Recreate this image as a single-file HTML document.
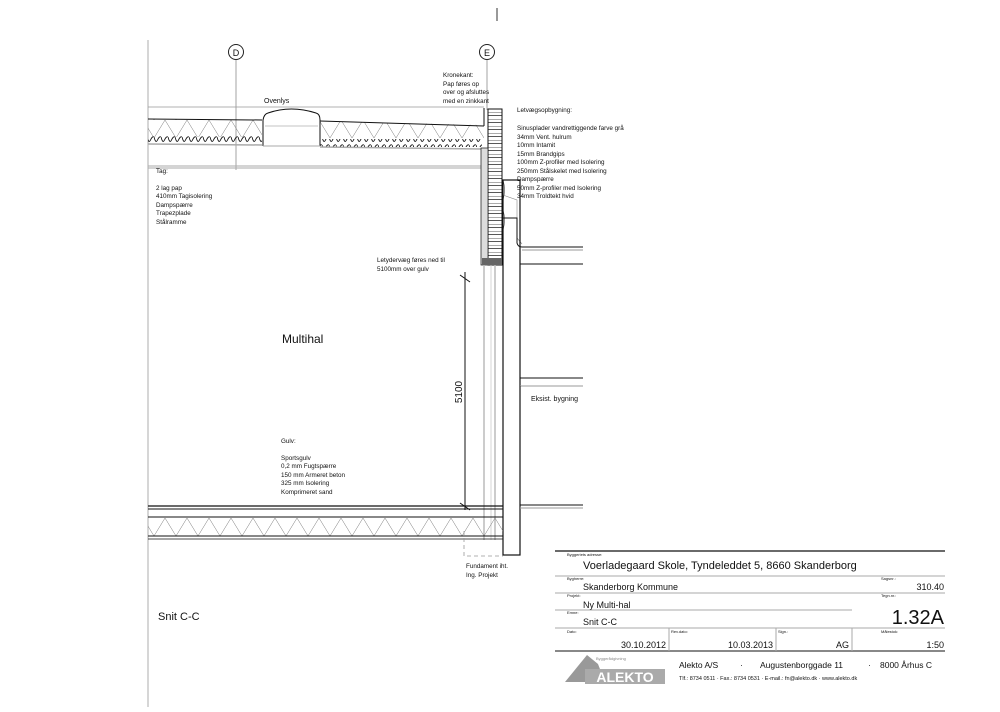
<!DOCTYPE html>
<html><head><meta charset="utf-8"><style>
html,body{margin:0;padding:0;background:#fff;}
svg text{font-family:"Liberation Sans",sans-serif;fill:#111;}
</style></head><body>
<svg width="1000" height="707" viewBox="0 0 1000 707" xmlns="http://www.w3.org/2000/svg">
<defs>
<pattern id="zr" x="0" y="120" width="22" height="18" patternUnits="userSpaceOnUse">
<path d="M0 18 L11 0 L22 18" fill="none" stroke="#777" stroke-width="0.5"/>
</pattern>
<pattern id="zf" x="0" y="518" width="22" height="18" patternUnits="userSpaceOnUse">
<path d="M0 18 L11 0 L22 18" fill="none" stroke="#777" stroke-width="0.5"/>
</pattern>
<pattern id="wv" x="0" y="0" width="7" height="8" patternUnits="userSpaceOnUse">
<path d="M0 1 Q1.75 8 3.5 4 Q5.25 0 7 1" fill="none" stroke="#111" stroke-width="0.9"/>
</pattern>
<pattern id="wl" x="0" y="0" width="20" height="7" patternUnits="userSpaceOnUse">
<rect width="20" height="7" fill="#fff"/>
<path d="M0 3.5 H20 M0 0 H20" stroke="#222" stroke-width="0.7"/>
</pattern>
</defs>
<line x1="497" y1="8" x2="497" y2="21" stroke="#333"/>
<line x1="148" y1="40" x2="148" y2="707" stroke="#bbb" stroke-width="1.2"/>
<circle cx="236" cy="52" r="7.5" fill="none" stroke="#222"/><text x="236" y="56" font-size="9" text-anchor="middle">D</text>
<line x1="236" y1="60" x2="236" y2="170" stroke="#666" stroke-width="0.6"/>
<circle cx="487" cy="52" r="7.5" fill="none" stroke="#222"/><text x="487" y="56" font-size="9" text-anchor="middle">E</text>
<line x1="487" y1="60" x2="487" y2="110" stroke="#666" stroke-width="0.6"/>
<line x1="148" y1="107" x2="484" y2="107" stroke="#999" stroke-width="0.8"/>
<polygon points="148,119 262,120 262,137 148,137" fill="url(#zr)"/>
<polygon points="320,121 484,125 484,138 320,138" fill="url(#zr)"/>
<line x1="148" y1="119" x2="262" y2="120" stroke="#111"/>
<line x1="320" y1="121" x2="484" y2="126" stroke="#111"/>
<rect x="148" y="136" width="114" height="8" fill="url(#wv)"/>
<rect x="320" y="139" width="162" height="8" fill="url(#wv)"/>
<line x1="148" y1="144" x2="262" y2="145" stroke="#aaa" stroke-width="1.5"/>
<line x1="320" y1="147" x2="482" y2="149" stroke="#aaa" stroke-width="1.5"/>
<line x1="148" y1="166" x2="484" y2="166" stroke="#aaa" stroke-width="1"/>
<line x1="148" y1="168" x2="484" y2="168" stroke="#aaa" stroke-width="1"/>
<path d="M263 146 V120 Q264 114 268 113 Q291 105 316 113 Q320 114 320 120 V146" fill="none" stroke="#111"/>
<line x1="265" y1="126" x2="318" y2="126" stroke="#888" stroke-width="0.6"/>
<line x1="263" y1="146" x2="320" y2="146" stroke="#aaa"/>
<text x="264" y="103" font-size="7">Ovenlys</text>
<rect x="488" y="109" width="14" height="156" fill="url(#wl)" stroke="#111"/>
<rect x="481" y="148" width="7" height="117" fill="#ddd" stroke="#111" stroke-width="0.7"/>
<rect x="482" y="258" width="20" height="7" fill="#666"/>
<line x1="484" y1="108" x2="484" y2="126" stroke="#111"/>
<path d="M503 180 Q506 190 503 200 M503 210 Q506 220 503 230" stroke="#444" fill="none" stroke-width="0.6"/>
<path d="M503 195 L517 200 L517 238 L522 244" fill="none" stroke="#888" stroke-width="0.6"/>
<path d="M503 218 H517 V243 Q518 247 522 247 H583" fill="none" stroke="#111"/>
<line x1="522" y1="250" x2="583" y2="250" stroke="#999"/>
<line x1="484" y1="265" x2="484" y2="540" stroke="#bbb" stroke-width="1.5"/>
<line x1="495" y1="265" x2="495" y2="540" stroke="#bbb" stroke-width="1.5"/>
<line x1="491" y1="265" x2="491" y2="540" stroke="#ccc" stroke-width="0.8"/>
<rect x="503" y="180" width="17" height="375" fill="none" stroke="#111" stroke-width="1.2"/>
<path d="M583 264 H520 V378 H583" fill="none" stroke="#111"/>
<line x1="520" y1="386" x2="583" y2="386" stroke="#999"/>
<path d="M520 386 V505 H583" fill="none" stroke="#111"/>
<line x1="520" y1="508" x2="583" y2="508" stroke="#999"/>
<text x="531" y="401" font-size="7">Eksist. bygning</text>
<line x1="148" y1="506" x2="503" y2="506" stroke="#111" stroke-width="1.3"/>
<line x1="148" y1="509" x2="503" y2="509" stroke="#111" stroke-width="1"/>
<line x1="148" y1="517" x2="503" y2="517" stroke="#111" stroke-width="1"/>
<rect x="148" y="518" width="355" height="18" fill="url(#zf)"/>
<line x1="148" y1="536" x2="503" y2="536" stroke="#111" stroke-width="1"/>
<line x1="148" y1="539" x2="503" y2="539" stroke="#111" stroke-width="0.8"/>
<path d="M464 531 V556 H503" fill="none" stroke="#999" stroke-dasharray="4 3" stroke-width="0.8"/>
<line x1="465" y1="272" x2="465" y2="510" stroke="#111"/>
<line x1="460" y1="275" x2="470" y2="282" stroke="#111"/>
<line x1="460" y1="503" x2="470" y2="510" stroke="#111"/>
<text transform="translate(462 392) rotate(-90)" font-size="10" text-anchor="middle">5100</text>
<g font-size="6.3">
<text x="443" y="77">Kronekant:</text><text x="443" y="86">Pap føres op</text><text x="443" y="94">over og afsluttes</text><text x="443" y="103">med en zinkkant</text>
<text x="517" y="112">Letvægsopbygning:</text>
<text x="517" y="130">Sinusplader vandrettiggende farve grå</text><text x="517" y="139">34mm Vent. hulrum</text><text x="517" y="147">10mm Intamit</text><text x="517" y="156">15mm Brandgips</text><text x="517" y="164">100mm Z-profiler med Isolering</text><text x="517" y="173">250mm Stålskelet med Isolering</text><text x="517" y="181">Dampspærre</text><text x="517" y="190">50mm Z-profiler med Isolering</text><text x="517" y="198">34mm Troldtekt hvid</text>
<text x="156" y="173">Tag:</text>
<text x="156" y="190">2 lag pap</text><text x="156" y="198">410mm Tagisolering</text><text x="156" y="207">Dampspærre</text><text x="156" y="215">Trapezplade</text><text x="156" y="224">Stålramme</text>
<text x="377" y="262">Letydervæg føres ned til</text><text x="377" y="271">5100mm over gulv</text>
<text x="281" y="443">Gulv:</text>
<text x="281" y="460">Sportsgulv</text><text x="281" y="468">0,2 mm Fugtspærre</text><text x="281" y="477">150 mm Armeret beton</text><text x="281" y="485">325 mm Isolering</text><text x="281" y="494">Komprimeret sand</text>
<text x="466" y="568">Fundament iht.</text><text x="466" y="577">Ing. Projekt</text>
</g>
<text x="282" y="343" font-size="12">Multihal</text>
<text x="158" y="620" font-size="11">Snit C-C</text>
<g stroke="#111" fill="none">
<line x1="555" y1="551" x2="945" y2="551" stroke-width="1.2"/>
<line x1="555" y1="576" x2="945" y2="576" stroke="#aaa"/>
<line x1="555" y1="593" x2="945" y2="593" stroke="#aaa"/>
<line x1="555" y1="610" x2="852" y2="610" stroke="#aaa"/>
<line x1="555" y1="628" x2="945" y2="628" stroke="#aaa"/>
<line x1="555" y1="651" x2="945" y2="651" stroke-width="1"/>
<line x1="669" y1="628" x2="669" y2="651" stroke="#aaa"/>
<line x1="776" y1="628" x2="776" y2="651" stroke="#aaa"/>
<line x1="852" y1="628" x2="852" y2="651" stroke="#aaa"/>
</g>
<g font-size="4">
<text x="567" y="556">Byggeriets adresse:</text><text x="567" y="580">Bygherre:</text><text x="567" y="597">Projekt:</text><text x="567" y="614">Emne:</text><text x="567" y="633">Dato:</text><text x="671" y="633">Rev.dato:</text><text x="778" y="633">Sign.:</text><text x="881" y="580">Sagsnr.:</text><text x="881" y="597">Tegn.nr.:</text><text x="881" y="633">Målestok:</text>
</g>
<text x="583" y="569" font-size="11">Voerladegaard Skole, Tyndeleddet 5, 8660 Skanderborg</text>
<text x="583" y="590" font-size="9">Skanderborg Kommune</text>
<text x="944" y="590" font-size="9" text-anchor="end">310.40</text>
<text x="583" y="608" font-size="9">Ny Multi-hal</text>
<text x="583" y="625" font-size="9">Snit C-C</text>
<text x="944" y="624" font-size="20" text-anchor="end">1.32A</text>
<text x="666" y="648" font-size="9" text-anchor="end">30.10.2012</text>
<text x="773" y="648" font-size="9" text-anchor="end">10.03.2013</text>
<text x="849" y="648" font-size="9" text-anchor="end">AG</text>
<text x="944" y="648" font-size="9" text-anchor="end">1:50</text>
<polygon points="565,682 587,655 598,664 605,682" fill="#999"/>
<rect x="585" y="669" width="80" height="15" fill="#aaa"/>
<text x="625" y="682" font-size="14" font-weight="bold" text-anchor="middle" style="fill:#fff">ALEKTO</text>
<text x="596" y="660" font-size="4" style="fill:#888">Byggerådgivning</text>
<text x="679" y="668" font-size="8.5">Alekto A/S</text>
<text x="740" y="668" font-size="8.5">·</text>
<text x="760" y="668" font-size="8.5">Augustenborggade 11</text>
<text x="868" y="668" font-size="8.5">·</text>
<text x="880" y="668" font-size="8.5">8000 Århus C</text>
<text x="679" y="680" font-size="5.5">Tlf.: 8734 0511 · Fax.: 8734 0531 · E-mail.: fn@alekto.dk · www.alekto.dk</text>
</svg>
</body></html>
